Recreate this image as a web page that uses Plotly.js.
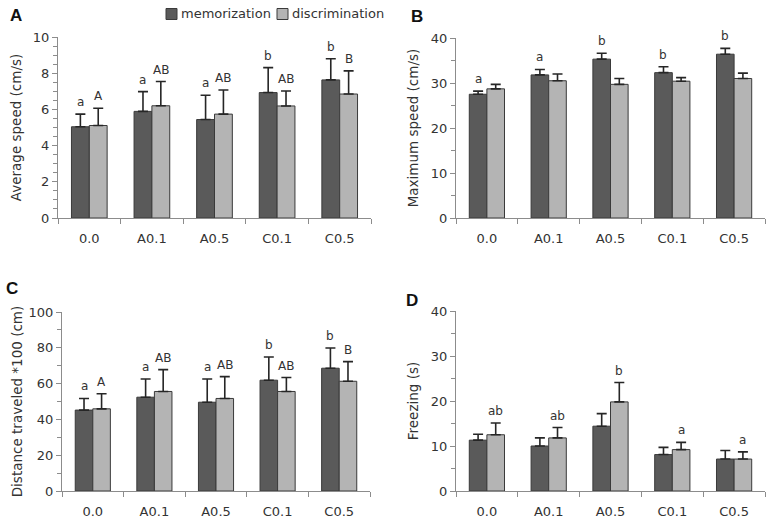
<!DOCTYPE html>
<html>
<head>
<meta charset="utf-8">
<script src="https://cdn.plot.ly/plotly-3.0.1.min.js"></script>
<style>html,body{margin:0;padding:0;background:#fff;}#chart{width:768px;height:518px;}</style>
</head>
<body>
<div id="chart"></div>
<script>
// ---- data ----
const categories = ["0.0", "A0.1", "A0.5", "C0.1", "C0.5"];
const seriesNames = ["memorization", "discrimination"];

const avgSpeedMem = [5.04, 5.89, 5.44, 6.93, 7.63];
const avgSpeedMemErr = [0.70, 1.09, 1.34, 1.38, 1.17];
const avgSpeedDis = [5.11, 6.20, 5.74, 6.19, 6.85];
const avgSpeedDisErr = [0.95, 1.34, 1.33, 0.83, 1.28];
const avgSpeedMemSig = ["a", "a", "a", "b", "b"];
const avgSpeedDisSig = ["A", "AB", "AB", "AB", "B"];

const maxSpeedMem = [27.5, 31.8, 35.3, 32.3, 36.4];
const maxSpeedMemErr = [0.7, 1.2, 1.3, 1.3, 1.3];
const maxSpeedDis = [28.7, 30.5, 29.7, 30.4, 31.0];
const maxSpeedDisErr = [1.0, 1.5, 1.3, 0.8, 1.2];
const maxSpeedMemSig = ["a", "a", "b", "b", "b"];
const maxSpeedDisSig = ["", "", "", "", ""];

const distMem = [45.2, 52.4, 49.6, 61.9, 68.6];
const distMemErr = [6.5, 10.2, 13.0, 13.0, 11.3];
const distDis = [45.9, 55.6, 51.7, 55.6, 61.3];
const distDisErr = [8.4, 12.2, 12.2, 7.8, 11.0];
const distMemSig = ["a", "a", "a", "b", "b"];
const distDisSig = ["A", "AB", "AB", "AB", "B"];

const freezeMem = [11.3, 10.0, 14.4, 8.1, 7.1];
const freezeMemErr = [1.3, 1.8, 2.8, 1.6, 1.9];
const freezeDis = [12.5, 11.8, 19.8, 9.2, 7.1];
const freezeDisErr = [2.6, 2.3, 4.3, 1.6, 1.6];
const freezeMemSig = ["", "", "", "", ""];
const freezeDisSig = ["ab", "ab", "b", "a", "a"];

const panelLetters = ["A", "B", "C", "D"];
const yTitles = ["Average speed (cm/s)", "Maximum speed (cm/s)", "Distance traveled *100 (cm)", "Freezing (s)"];
const yRanges = [[0, 10], [0, 40], [0, 100], [0, 40]];
const yDticks = [2, 10, 20, 10];
const yMinorDticks = [0.5, 5, 10, 5];

// ---- styling ----
const W = 768, H = 518;
const darkFill = "#5a5a5a", lightFill = "#b4b4b4", barLine = "#3a3a3a";
const axisColor = "#8c8c8c", textColor = "#333333";
const font = "DejaVu Sans, Verdana, sans-serif";
const bargap = 0.43;
const half = (1 - bargap) / 4;

const panels = [
  {mem: avgSpeedMem, memErr: avgSpeedMemErr, dis: avgSpeedDis, disErr: avgSpeedDisErr, memSig: avgSpeedMemSig, disSig: avgSpeedDisSig,
   px: [58, 371], py: [37, 218], standoff: 8},
  {mem: maxSpeedMem, memErr: maxSpeedMemErr, dis: maxSpeedDis, disErr: maxSpeedDisErr, memSig: maxSpeedMemSig, disSig: maxSpeedDisSig,
   px: [456, 765], py: [38, 218], standoff: 9},
  {mem: distMem, memErr: distMemErr, dis: distDis, disErr: distDisErr, memSig: distMemSig, disSig: distDisSig,
   px: [62, 370], py: [312, 491], standoff: 2},
  {mem: freezeMem, memErr: freezeMemErr, dis: freezeDis, disErr: freezeDisErr, memSig: freezeMemSig, disSig: freezeDisSig,
   px: [456, 765], py: [311, 491], standoff: 9}
];
const letterPos = [[16, 15], [417, 16], [12, 288], [412, 300]];

const traces = [];
const annotations = [];
const shapes = [];
const layout = {
  width: W, height: H,
  margin: {l: 0, r: 0, t: 0, b: 0},
  paper_bgcolor: "#ffffff", plot_bgcolor: "#ffffff",
  barmode: "group", bargap: bargap, bargroupgap: 0,
  font: {family: font, color: textColor, size: 12},
  showlegend: false,
  annotations: annotations,
  shapes: shapes
};

panels.forEach((p, i) => {
  const n = i === 0 ? "" : String(i + 1);
  const xa = "x" + n, ya = "y" + n;
  const mk = (vals, errs, name, fill) => ({
    type: "bar", x: categories, y: vals, name: name, xaxis: xa, yaxis: ya,
    marker: {color: fill, line: {color: barLine, width: 1}},
    error_y: {type: "data", symmetric: false, array: errs, arrayminus: errs.map(() => 0),
              color: "#262626", thickness: 1.6, width: 5},
    hoverinfo: "skip"
  });
  traces.push(mk(p.mem, p.memErr, seriesNames[0], darkFill));
  traces.push(mk(p.dis, p.disErr, seriesNames[1], lightFill));

  layout["xaxis" + n] = {
    domain: [p.px[0] / W, p.px[1] / W], anchor: ya,
    type: "category", showline: true, linecolor: axisColor, linewidth: 1,
    ticks: "outside", tickson: "boundaries", ticklen: 5, tickcolor: axisColor,
    tickfont: {family: font, size: 13, color: textColor}, ticklabelstandoff: 8,
    showgrid: false, zeroline: false, fixedrange: true
  };
  layout["yaxis" + n] = {
    domain: [1 - p.py[1] / H, 1 - p.py[0] / H], anchor: xa,
    range: yRanges[i], dtick: yDticks[i], tick0: 0,
    showline: true, linecolor: axisColor, linewidth: 1,
    ticks: "outside", ticklen: 5, tickcolor: axisColor,
    minor: {dtick: yMinorDticks[i], ticks: "outside", ticklen: 4, tickcolor: axisColor, showgrid: false},
    tickfont: {family: font, size: 13, color: textColor},
    showgrid: false, zeroline: false, fixedrange: true,
    title: {text: yTitles[i], font: {family: font, size: 13.5, color: textColor}, standoff: p.standoff}
  };

  const addSig = (sigs, tops, errs, off) => {
    sigs.forEach((s, k) => {
      if (!s) return;
      annotations.push({
        xref: xa, yref: ya, x: k + off, y: tops[k] + errs[k],
        text: s, showarrow: false, xanchor: "center", yanchor: "bottom", yshift: 3,
        font: {family: font, size: 12, color: textColor}
      });
    });
  };
  addSig(p.memSig, p.mem, p.memErr, -half);
  addSig(p.disSig, p.dis, p.disErr, half);

  annotations.push({
    xref: "paper", yref: "paper", x: letterPos[i][0] / W, y: 1 - letterPos[i][1] / H,
    text: "<b>" + panelLetters[i] + "</b>", showarrow: false, xanchor: "center", yanchor: "middle",
    font: {family: "Liberation Sans, Arial, sans-serif", size: 17, color: "#111111"}
  });
});

// ---- legend (swatch + label) ----
const legendItems = [
  {name: seriesNames[0], fill: darkFill, sx: 166, tx: 179},
  {name: seriesNames[1], fill: lightFill, sx: 277, tx: 290}
];
legendItems.forEach(it => {
  shapes.push({type: "rect", xref: "paper", yref: "paper",
    x0: it.sx / W, x1: (it.sx + 11) / W, y0: 1 - 19.5 / H, y1: 1 - 8.5 / H,
    fillcolor: it.fill, line: {color: barLine, width: 1}});
  annotations.push({xref: "paper", yref: "paper", x: it.tx / W, y: 1 - 14 / H,
    xanchor: "left", yanchor: "middle", showarrow: false, text: it.name,
    font: {family: font, size: 13, color: textColor}});
});

Plotly.newPlot("chart", traces, layout, {displayModeBar: false, staticPlot: true});
</script>
</body>
</html>
